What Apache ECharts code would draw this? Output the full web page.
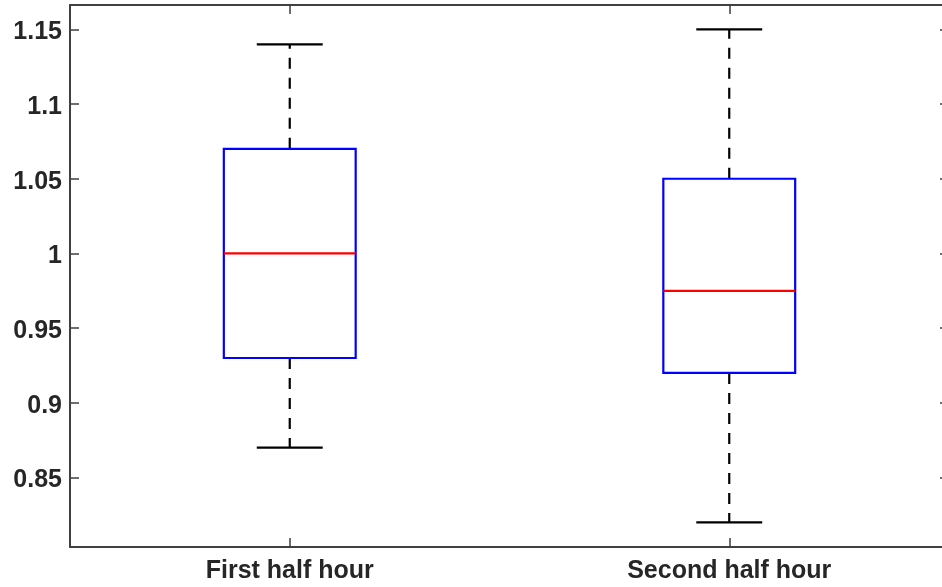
<!DOCTYPE html>
<html>
<head>
<meta charset="utf-8">
<script src="https://cdn.jsdelivr.net/npm/echarts@6/dist/echarts.min.js"></script>
<style>
html,body{margin:0;padding:0;background:#fff;overflow:hidden;}
#chart{width:942px;height:587px;}
</style>
</head>
<body>
<div id="chart"></div>
<script>
// ---- data ----
var categories = ['First half hour', 'Second half hour'];
var lowerWhisker = [0.87, 0.82];
var q1Values = [0.93, 0.92];
var medianValues = [1.0, 0.975];
var q3Values = [1.07, 1.05];
var upperWhisker = [1.14, 1.15];
var yTickValues = [0.85, 0.9, 0.95, 1, 1.05, 1.1, 1.15];

var boxData = categories.map(function (c, i) {
  return [i, lowerWhisker[i], q1Values[i], medianValues[i], q3Values[i], upperWhisker[i]];
});

var axisColor = '#404040';
var textColor = '#262626';
var fontFamily = '"Liberation Sans", Arial, Helvetica, sans-serif';

function renderBox(params, api) {
  var idx = api.value(0);
  var lo = api.coord([idx, api.value(1)]);
  var q1 = api.coord([idx, api.value(2)]);
  var med = api.coord([idx, api.value(3)]);
  var q3 = api.coord([idx, api.value(4)]);
  var hi = api.coord([idx, api.value(5)]);
  var band = api.size([1, 0])[0];
  var bw = band * 0.3;
  var cw = band * 0.15;
  var x = lo[0];
  var dash = { stroke: '#000', lineWidth: 2.2, lineDash: [11, 9], fill: null };
  var solid = { stroke: '#000', lineWidth: 2.2, fill: null };
  return {
    type: 'group',
    children: [
      { type: 'line', shape: { x1: x, y1: q3[1], x2: x, y2: hi[1] }, style: dash },
      { type: 'line', shape: { x1: x, y1: q1[1], x2: x, y2: lo[1] }, style: dash },
      { type: 'line', shape: { x1: x - cw / 2, y1: hi[1], x2: x + cw / 2, y2: hi[1] }, style: solid },
      { type: 'line', shape: { x1: x - cw / 2, y1: lo[1], x2: x + cw / 2, y2: lo[1] }, style: solid },
      { type: 'rect', shape: { x: x - bw / 2, y: q3[1], width: bw, height: q1[1] - q3[1] },
        style: { stroke: '#0000ff', lineWidth: 2.2, fill: null } },
      { type: 'line', shape: { x1: x - bw / 2, y1: med[1], x2: x + bw / 2, y2: med[1] },
        style: { stroke: '#ff0000', lineWidth: 2.2 } }
    ]
  };
}

var chart = echarts.init(document.getElementById('chart'), null, { renderer: 'canvas' });
chart.setOption({
  animation: false,
  backgroundColor: '#fff',
  grid: { left: 70, top: 5, width: 879, bottom: 40, containLabel: false, outerBoundsMode: 'none' },
  xAxis: [
    {
      type: 'category', data: categories, position: 'bottom', boundaryGap: true,
      axisLine: { show: true, lineStyle: { color: axisColor, width: 2 } },
      axisTick: { show: true, inside: true, length: 9, alignWithLabel: true, lineStyle: { color: axisColor, width: 1.5 } },
      axisLabel: { show: true, margin: 12, color: textColor, fontSize: 25, fontWeight: 'bold', fontFamily: fontFamily },
      splitLine: { show: false }
    },
    {
      type: 'category', data: categories, position: 'top', boundaryGap: true,
      axisLine: { show: true, lineStyle: { color: axisColor, width: 2 } },
      axisTick: { show: true, inside: true, length: 9, alignWithLabel: true, lineStyle: { color: axisColor, width: 1.5 } },
      axisLabel: { show: false },
      splitLine: { show: false }
    }
  ],
  yAxis: [
    {
      type: 'value', position: 'left', min: 0.8035, max: 1.1663,
      axisLine: { show: true, lineStyle: { color: axisColor, width: 2 } },
      axisTick: { show: true, inside: true, length: 9, customValues: yTickValues, lineStyle: { color: axisColor, width: 1.5 } },
      axisLabel: {
        show: true, margin: 8, customValues: yTickValues,
        formatter: function (v) { return '{v|' + v + '}'; },
        rich: { v: { color: textColor, fontSize: 25, fontWeight: 'bold', fontFamily: fontFamily, padding: [6, 0, 0, 0] } }
      },
      splitLine: { show: false }
    },
    {
      type: 'value', position: 'right', min: 0.8035, max: 1.1663,
      axisLine: { show: true, lineStyle: { color: axisColor, width: 2 } },
      axisTick: { show: true, inside: true, length: 9, customValues: yTickValues, lineStyle: { color: axisColor, width: 1.5 } },
      axisLabel: { show: false },
      splitLine: { show: false }
    }
  ],
  series: [
    {
      type: 'custom',
      xAxisIndex: 0, yAxisIndex: 0,
      renderItem: renderBox,
      encode: { x: 0, y: [1, 2, 3, 4, 5] },
      data: boxData,
      clip: false
    }
  ]
});
</script>
</body>
</html>
